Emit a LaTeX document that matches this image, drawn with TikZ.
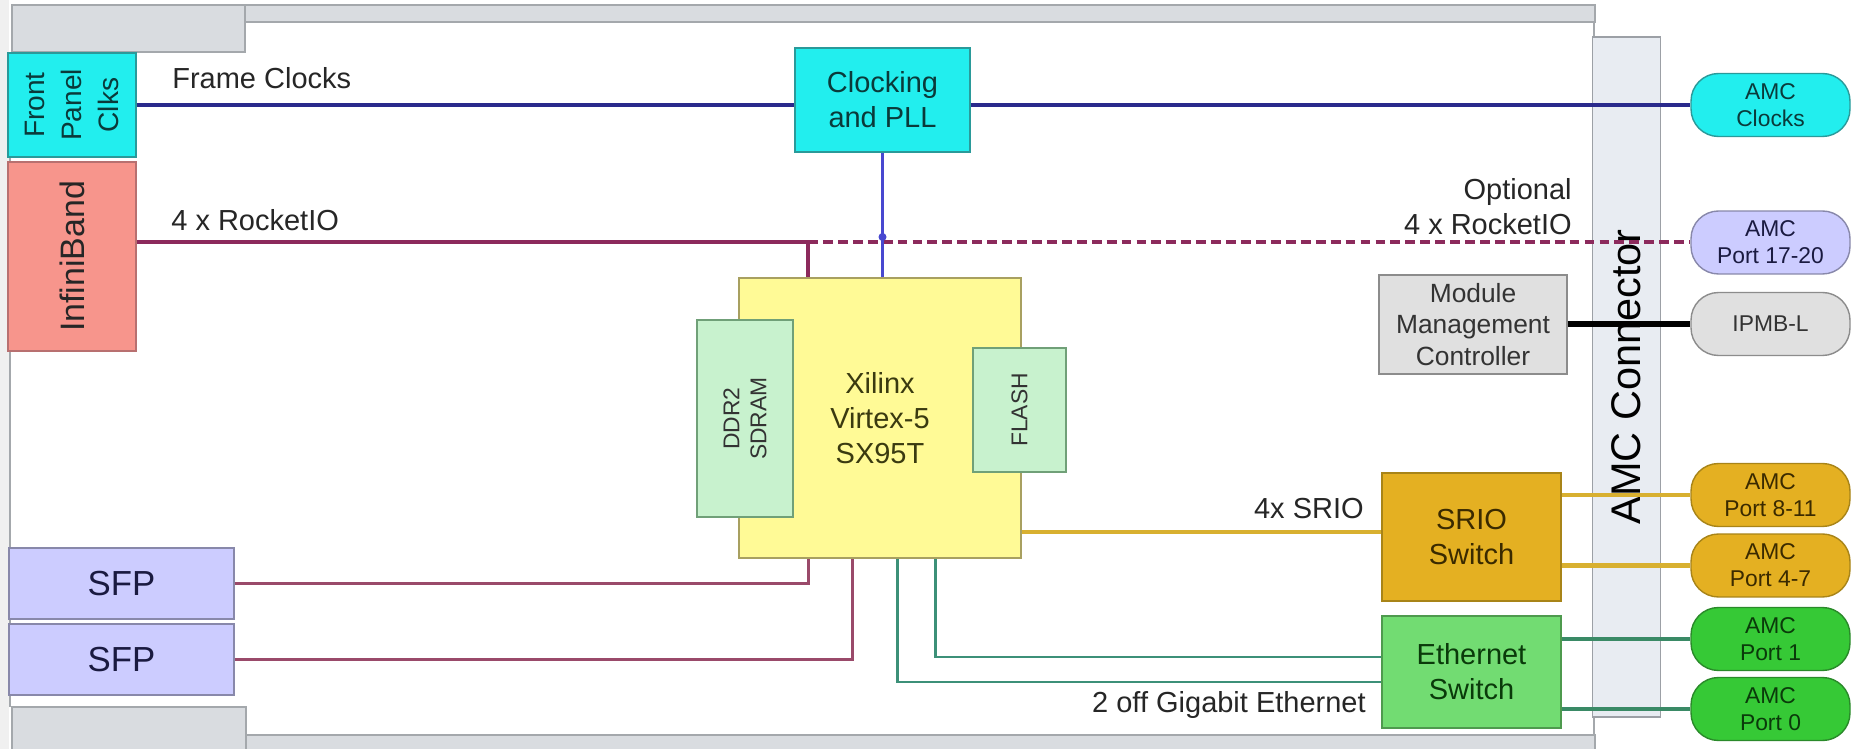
\documentclass[tikz,border=0pt]{standalone}
\usepackage{fontspec}
\setmainfont{Liberation Sans}
\usetikzlibrary{positioning}
\definecolor{pagegray}{HTML}{F0F0F0}
\definecolor{cardfill}{HTML}{D9DCE0}
\definecolor{cardedge}{HTML}{A4A8AC}
\definecolor{connfill}{HTML}{E8ECF2}
\definecolor{connedge}{HTML}{9CA0A6}
\definecolor{clkcyan}{HTML}{22EEEE}
\definecolor{clkedge}{HTML}{2A9A9A}
\definecolor{clktext}{HTML}{0A3A3A}
\definecolor{ibsalmon}{HTML}{F7958C}
\definecolor{ibedge}{HTML}{B87070}
\definecolor{fpgayel}{HTML}{FFFA96}
\definecolor{fpgaedge}{HTML}{A8A060}
\definecolor{fpgatext}{HTML}{3A3A10}
\definecolor{memgreen}{HTML}{C8F2CE}
\definecolor{memedge}{HTML}{70A078}
\definecolor{sfplav}{HTML}{CCCCFF}
\definecolor{sfpedge}{HTML}{8888AA}
\definecolor{sfptext}{HTML}{1A1A40}
\definecolor{mmcgray}{HTML}{E0E0E0}
\definecolor{mmcedge}{HTML}{8C8C8C}
\definecolor{sriogold}{HTML}{E4B022}
\definecolor{srioedge}{HTML}{A88418}
\definecolor{sriotext}{HTML}{3A2A00}
\definecolor{ethgreen}{HTML}{72DC72}
\definecolor{ethedge}{HTML}{4E9A4E}
\definecolor{ethtext}{HTML}{0A3A0A}
\definecolor{amcgreen}{HTML}{36C936}
\definecolor{amcgreenedge}{HTML}{2A8A2A}
\definecolor{clkblue}{HTML}{2A2A8C}
\definecolor{pllblue}{HTML}{4848D0}
\definecolor{riored}{HTML}{8C2A5C}
\definecolor{sfpred}{HTML}{9A4A6A}
\definecolor{gbeteal}{HTML}{3C9078}
\definecolor{ethline}{HTML}{3A8A66}
\definecolor{sriowire}{HTML}{D8B030}
\newcommand\lblfont{\fontsize{16.5}{20}\selectfont}
\newcommand\fpfont{\fontsize{16}{21}\selectfont}
\newcommand\ibfont{\fontsize{19.3}{23}\selectfont}
\newcommand\sfpfont{\fontsize{19.8}{24}\selectfont}
\newcommand\mmcfont{\fontsize{15}{18}\selectfont}
\newcommand\portfont{\fontsize{13}{15.3}\selectfont}
\newcommand\connfont{\fontsize{23.6}{28}\selectfont}
\tikzset{
  blk/.style={draw,line width=0.8pt,inner sep=0pt,align=center,font=\lblfont},
  clkbox/.style={blk,fill=clkcyan,draw=clkedge,text=clktext},
  ibbox/.style={blk,fill=ibsalmon,draw=ibedge,text=black!85,font=\ibfont},
  fpgabox/.style={blk,fill=fpgayel,draw=fpgaedge,text=fpgatext},
  membox/.style={blk,fill=memgreen,draw=memedge,text=black!80,font=\portfont},
  sfpbox/.style={blk,fill=sfplav,draw=sfpedge,text=sfptext,font=\sfpfont,
    minimum width=4.5cm,minimum height=1.42cm},
  mmcbox/.style={blk,fill=mmcgray,draw=mmcedge,text=black!80,font=\mmcfont,
    minimum width=3.76cm,minimum height=1.98cm},
  sriobox/.style={blk,fill=sriogold,draw=srioedge,text=sriotext,minimum width=3.58cm},
  ethbox/.style={blk,fill=ethgreen,draw=ethedge,text=ethtext,minimum width=3.58cm},
  amcport/.style={draw,line width=0.8pt,rounded corners=0.55cm,inner sep=0pt,
    align=center,font=\portfont,text=black!80,minimum width=3.18cm,minimum height=1.26cm},
  lbl/.style={inner sep=0pt,font=\lblfont,text=black!85},
  oneline/.style={text height=0.72em,text depth=0.2em},
  cardpart/.style={fill=cardfill,draw=cardedge,line width=0.8pt},
  clkwire/.style={draw=clkblue,line width=2.3pt},
  pllwire/.style={draw=pllblue,line width=1.7pt},
  riowire/.style={draw=riored,line width=2.8pt},
  riodash/.style={draw=riored,line width=2.8pt,dash pattern=on 5.6pt off 2.9pt},
  sfpwire/.style={draw=sfpred,line width=1.7pt},
  gbewire/.style={draw=gbeteal,line width=1.7pt},
  srioline/.style={draw=sriowire,line width=2.8pt},
  ethport/.style={draw=ethline,line width=2.8pt},
  ipmbwire/.style={draw=black,line width=3.2pt}
}
\begin{document}
\begin{tikzpicture}[x=0.02cm,y=-0.02cm]
  \useasboundingbox (0,0) rectangle (1853,749);
  \fill[white] (0,0) rectangle (1853,749);
  \fill[pagegray] (0,0) rectangle (9,749);
  % card outline
  \draw[cardedge,line width=0.8pt] (10,52) -- (10,707);
  \draw[cardedge,line width=0.8pt] (1594,22) -- (1594,735);
  \filldraw[cardpart] (12,5) rectangle (245,52);
  \filldraw[cardpart] (245,5) rectangle (1595,22);
  \filldraw[cardpart] (12,749) -- (12,707) -- (246,707) -- (246,749);
  \filldraw[cardpart] (246,749) -- (246,735) -- (1595,735) -- (1595,749);
  \node[draw=connedge,fill=connfill,line width=0.8pt,inner sep=0pt,font=\connfont,
    minimum width=13.6cm,minimum height=1.36cm,rotate=90] (conn) at (1626.5,377) {AMC Connector};

  % front panel (rotated, so their .south faces the card)
  \node[clkbox,font=\fpfont,rotate=90,minimum width=2.08cm,minimum height=2.56cm] (fpclk) at (72,105) {Front\\Panel\\Clks};
  \node[ibbox,rotate=90,minimum width=3.78cm,minimum height=2.56cm] (infini) at (72,256.5) {InfiniBand};
  \node[sfpbox] (sfpa) at (121.5,583.5) {SFP};
  \node[sfpbox] (sfpb) at (121.5,659.5) {SFP};

  % on-board parts
  \node[clkbox,minimum width=3.5cm,minimum height=2.08cm] (pll) at (882.5,100) {Clocking\\and PLL};
  \node[fpgabox,minimum width=5.64cm,minimum height=5.6cm] (fpga) at (880,418) {Xilinx\\Virtex-5\\SX95T};
  \node[membox,rotate=90,minimum width=3.94cm,minimum height=1.92cm] (ddr) at (745,418.5) {DDR2\\SDRAM};
  \node[membox,rotate=90,minimum width=2.48cm,minimum height=1.86cm] (flash) at (1019.5,410) {FLASH};
  \node[mmcbox] (mmc) at (1473,324.5) {Module\\Management\\Controller};
  \node[sriobox,minimum height=2.56cm] (srio) at (1471.5,537) {SRIO\\Switch};
  \node[ethbox,minimum height=2.24cm] (eth) at (1471.5,672) {Ethernet\\Switch};

  % AMC ports
  \node[amcport,fill=clkcyan,draw=clkedge,text=clktext] (amcclk) at (1770.5,105) {AMC\\Clocks};
  \node[amcport,fill=sfplav,draw=sfpedge,text=sfptext] (amcrio) at (1770.5,242.5) {AMC\\Port 17-20};
  \node[amcport,fill=mmcgray,draw=mmcedge] (ipmb) at (1770.5,324) {IPMB-L};
  \node[amcport,fill=sriogold,draw=srioedge,text=sriotext] (amcp8) at (1770.5,495) {AMC\\Port 8-11};
  \node[amcport,fill=sriogold,draw=srioedge,text=sriotext] (amcp4) at (1770.5,565.5) {AMC\\Port 4-7};
  \node[amcport,fill=amcgreen,draw=amcgreenedge,text=ethtext] (amcp1) at (1770.5,639) {AMC\\Port 1};
  \node[amcport,fill=amcgreen,draw=amcgreenedge,text=ethtext] (amcp0) at (1770.5,709) {AMC\\Port 0};

  % labels
  \node[lbl,oneline,anchor=west] (fclab) at (172,84) {Frame Clocks};
  \node[lbl,oneline,anchor=west] (riolab) at (171,226) {4 x RocketIO};
  \node[lbl,anchor=east,align=right] (optlab) at (1572,207) {Optional\\4 x RocketIO};
  \node[lbl,oneline,anchor=east] (sriolab) at (1364,514) {4x SRIO};
  \node[lbl,oneline,anchor=east] (gbelab) at (1366,708) {2 off Gigabit Ethernet};

  % clocks
  \draw[clkwire] (fpclk.south |- amcclk.west) -- (pll.west |- amcclk.west);
  \draw[clkwire] (pll.east |- amcclk.west) -- (amcclk.west);
  % rocketio
  \coordinate (rtap) at (808,242);
  \draw[riowire] (infini.south |- rtap) -- (rtap) -- (rtap |- fpga.north);
  \draw[riodash] (rtap) -- (amcrio.west |- rtap);
  \draw[pllwire] (pll.south) -- (pll.south |- fpga.north);
  \fill[pllblue] (pll.south |- rtap) ++(0,-5) circle (0.08cm);
  % sfp and ethernet
  \draw[sfpwire] (sfpa.east) -| (rtap |- fpga.south);
  \draw[sfpwire] (sfpb.east) -| (fpga.south -| 852,0);
  \draw[gbewire] (fpga.south -| 897,0) |- (eth.west |- 0,682);
  \draw[gbewire] (fpga.south -| 935,0) |- (eth.west |- 0,657);
  % srio
  \draw[srioline] (fpga.east |- 0,532) -- (srio.west |- 0,532);
  \draw[srioline] (srio.east |- amcp8.west) -- (amcp8.west);
  \draw[srioline] (srio.east |- amcp4.west) -- (amcp4.west);
  \draw[ethport] (eth.east |- amcp1.west) -- (amcp1.west);
  \draw[ethport] (eth.east |- amcp0.west) -- (amcp0.west);
  \draw[ipmbwire] (mmc.east |- ipmb.west) -- (ipmb.west);
\end{tikzpicture}
\end{document}
